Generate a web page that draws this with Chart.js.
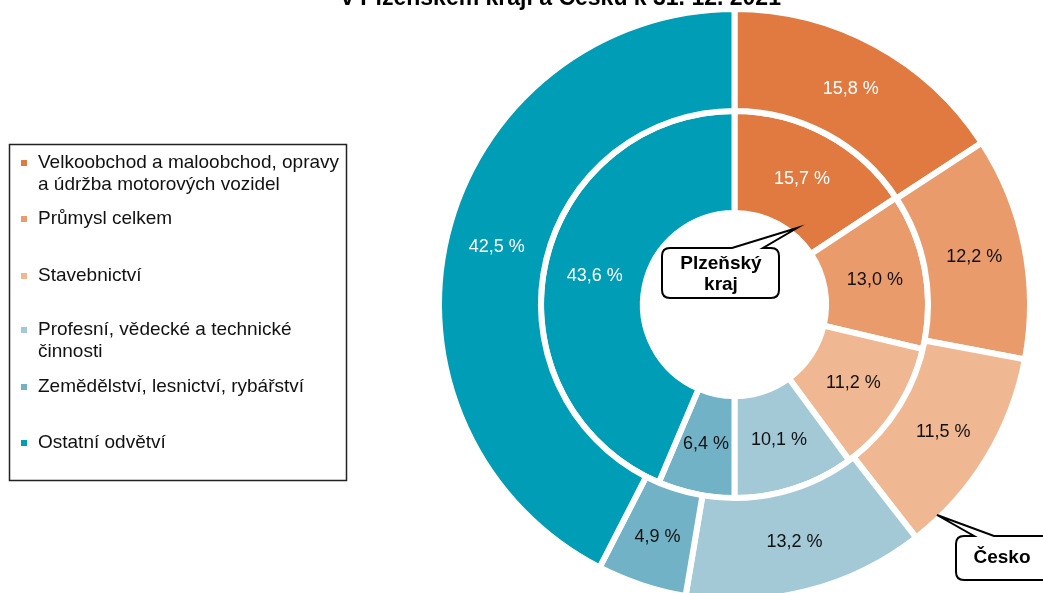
<!DOCTYPE html>
<html>
<head>
<meta charset="utf-8">
<script src="https://cdn.jsdelivr.net/npm/chart.js@4/dist/chart.umd.min.js"></script>
<style>
html,body{margin:0;padding:0;background:#fff;}
#wrap{position:relative;width:1043px;height:593px;overflow:hidden;}
canvas{display:block;}
</style>
</head>
<body>
<div id="wrap"><canvas id="c" width="1043" height="593"></canvas></div>
<script>
// ---- data ----
const categories = [
  ["Velkoobchod a maloobchod, opravy", "a údržba motorových vozidel"],
  ["Průmysl celkem"],
  ["Stavebnictví"],
  ["Profesní, vědecké a technické", "činnosti"],
  ["Zemědělství, lesnictví, rybářství"],
  ["Ostatní odvětví"]
];
const ceskoValues = [15.8, 12.2, 11.5, 13.2, 4.9, 42.5];
const plzenValues = [15.7, 13.0, 11.2, 10.1, 6.4, 43.6];
const seriesNames = ["Česko", "Plzeňský kraj"];
const titleLine = "v Plzeňském kraji a Česku k 31. 12. 2021";

// ---- styles ----
const colors = ["#E07A41", "#E99B6C", "#F0B892", "#A3C9D7", "#72B2C7", "#009DB6"];
const labelColors = ["#ffffff", "#111111", "#111111", "#111111", "#111111", "#ffffff"];
const FONT = '"Liberation Sans", Arial, sans-serif';

const fmt = v => v.toFixed(1).replace('.', ',') + ' %';

function callout(ctx, box, base1, base2, tip, lines, pos) {
  const {x, y, w, h, r} = box;
  ctx.save();
  ctx.beginPath();
  ctx.moveTo(x + r, y);
  ctx.lineTo(base1, y);
  ctx.lineTo(tip[0], tip[1]);
  ctx.lineTo(base2, y);
  ctx.lineTo(x + w - r, y);
  ctx.quadraticCurveTo(x + w, y, x + w, y + r);
  ctx.lineTo(x + w, y + h - r);
  ctx.quadraticCurveTo(x + w, y + h, x + w - r, y + h);
  ctx.lineTo(x + r, y + h);
  ctx.quadraticCurveTo(x, y + h, x, y + h - r);
  ctx.lineTo(x, y + r);
  ctx.quadraticCurveTo(x, y, x + r, y);
  ctx.closePath();
  ctx.fillStyle = '#fff';
  ctx.fill();
  ctx.lineWidth = 2;
  ctx.strokeStyle = '#000';
  ctx.lineJoin = 'miter';
  ctx.stroke();
  ctx.fillStyle = '#000';
  ctx.font = 'bold 19px ' + FONT;
  ctx.textAlign = 'center';
  ctx.textBaseline = 'middle';
  lines.forEach((t, i) => ctx.fillText(t, pos[i][0], pos[i][1]));
  ctx.restore();
}

const decor = {
  id: 'decor',
  afterDatasetsDraw(chart) {
    const ctx = chart.ctx;
    // segment labels
    chart.data.datasets.forEach((ds, di) => {
      const meta = chart.getDatasetMeta(di);
      meta.data.forEach((arc, i) => {
        const p = arc.getProps(['x', 'y', 'startAngle', 'endAngle', 'innerRadius', 'outerRadius'], true);
        const a = (p.startAngle + p.endAngle) / 2;
        const r = (p.innerRadius + p.outerRadius) / 2;
        ctx.save();
        ctx.font = '18px ' + FONT;
        ctx.fillStyle = labelColors[i];
        ctx.textAlign = 'center';
        ctx.textBaseline = 'middle';
        ctx.fillText(fmt(ds.data[i]), p.x + Math.cos(a) * r, p.y + Math.sin(a) * r);
        ctx.restore();
      });
    });
    // callouts
    callout(ctx, {x: 662, y: 248, w: 117, h: 50, r: 8}, 732, 763, [797, 228],
      ["Plzeňský", "kraj"], [[721, 264], [721, 285]]);
    callout(ctx, {x: 956, y: 536, w: 100, h: 44, r: 8}, 974, 994, [937, 515],
      ["Česko"], [[1002, 558]]);
    // title (partially visible line)
    ctx.save();
    ctx.font = 'bold 23px ' + FONT;
    ctx.fillStyle = '#000';
    ctx.textAlign = 'center';
    ctx.textBaseline = 'alphabetic';
    ctx.fillText(titleLine, 561, 5);
    ctx.restore();
    // legend
    ctx.save();
    ctx.strokeStyle = '#222';
    ctx.lineWidth = 1.5;
    ctx.strokeRect(9.5, 144.5, 337, 336);
    ctx.font = '19px ' + FONT;
    ctx.textAlign = 'left';
    ctx.textBaseline = 'middle';
    const rowY = [163, 219, 276, 330, 387, 443];
    categories.forEach((lines, i) => {
      ctx.fillStyle = colors[i];
      ctx.fillRect(21, rowY[i] - 3, 6, 6);
      ctx.fillStyle = '#111';
      lines.forEach((t, j) => ctx.fillText(t, 38, rowY[i] + j * 22));
    });
    ctx.restore();
  }
};

new Chart(document.getElementById('c'), {
  type: 'doughnut',
  data: {
    labels: categories.map(l => l.join(' ')),
    datasets: [
      {label: seriesNames[0], data: ceskoValues, backgroundColor: colors, borderColor: '#fff', borderWidth: 6, clip: false},
      {label: seriesNames[1], data: plzenValues, backgroundColor: colors, borderColor: '#fff', borderWidth: 6, clip: false}
    ]
  },
  options: {
    responsive: false,
    animation: false,
    events: [],
    radius: 295.5,
    cutout: '31%',
    layout: {padding: {left: 426, right: 0, top: 16, bottom: 0}},
    plugins: {legend: {display: false}, title: {display: false}, tooltip: {enabled: false}}
  },
  plugins: [decor]
});
</script>
</body>
</html>
